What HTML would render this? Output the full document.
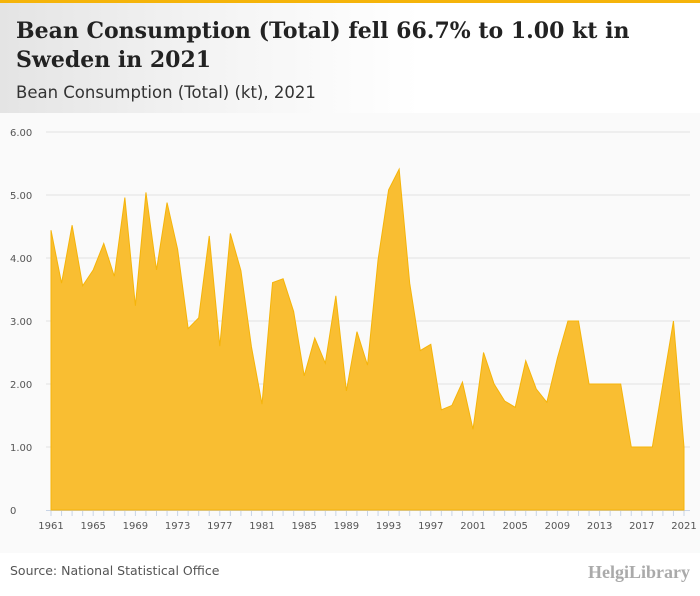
<!DOCTYPE html>
<html><head><meta charset="utf-8">
<style>
body{margin:0;width:700px;height:596px;overflow:hidden;background:#fff;font-family:"DejaVu Sans","Liberation Sans",sans-serif;}
#top{position:absolute;left:0;top:0;width:700px;height:3px;background:#f5b40a;}
#hdr{position:absolute;left:0;top:3px;width:700px;height:110px;background:linear-gradient(90deg,#e4e4e4 0%,#f6f6f6 35%,#fff 60%);}
h1{position:absolute;left:16px;top:14px;margin:0;font:bold 22px/29px "DejaVu Serif","Liberation Serif",serif;color:#222;}
#sub{position:absolute;left:16px;top:80px;font-size:16.5px;color:#333;}
#chart{position:absolute;left:0;top:113px;}
#src{position:absolute;left:10px;top:563px;font-size:12.5px;color:#555;}
#logo{position:absolute;right:10px;top:562px;font:bold 18px "Liberation Serif",serif;color:#aaa;}
</style></head><body>
<div id="top"></div>
<div id="hdr">
<h1>Bean Consumption (Total) fell 66.7% to 1.00 kt in<br>Sweden in 2021</h1>
<div id="sub">Bean Consumption (Total) (kt), 2021</div>
</div>
<svg id="chart" width="700" height="440"></svg>
<div id="src">Source: National Statistical Office</div>
<div id="logo">HelgiLibrary</div>
<script>
const years=[];for(let y=1961;y<=2021;y++)years.push(y);
const values=[4.44,3.60,4.52,3.56,3.81,4.23,3.71,4.96,3.24,5.04,3.81,4.88,4.14,2.88,3.05,4.35,2.60,4.39,3.80,2.59,1.68,3.61,3.67,3.15,2.13,2.73,2.33,3.40,1.89,2.83,2.30,3.97,5.08,5.41,3.60,2.53,2.63,1.59,1.66,2.03,1.28,2.50,2.00,1.73,1.63,2.37,1.92,1.71,2.41,3.00,3.00,2.00,2.00,2.00,2.00,1.00,1.00,1.00,2.00,3.00,1.00];
const yTicks=[0,1,2,3,4,5,6];
const yTickLabels=["0","1.00","2.00","3.00","4.00","5.00","6.00"];
const xTickYears=[1961,1965,1969,1973,1977,1981,1985,1989,1993,1997,2001,2005,2009,2013,2017,2021];
const NS="http://www.w3.org/2000/svg",svg=document.getElementById('chart');
const OY=113;
function X(y){return 51+(y-1961)*(684-51)/60;}
function Y(v){return 510-OY-v*63;}
function mk(t,a){const e=document.createElementNS(NS,t);for(const k in a)e.setAttribute(k,a[k]);svg.appendChild(e);return e;}
const bg=mk('rect',{x:0,y:0,width:700,height:440,fill:'#fafafa'});


yTicks.forEach((v,i)=>{
 if(v>0){const l=mk('line',{x1:46,x2:690,y1:Y(v),y2:Y(v),stroke:'#e2e2e2'});
 
 }
 const t=mk('text',{x:10,y:Y(v)+4,'font-size':10,fill:'#555'});t.textContent=yTickLabels[i];
 
 
});
mk('line',{x1:46,x2:690,y1:Y(0)+0.5,y2:Y(0)+0.5,stroke:'#c8d4e6'});
years.forEach(y=>{mk('line',{x1:X(y),x2:X(y),y1:Y(0),y2:Y(0)+6,stroke:'#c8d4e6'});});
xTickYears.forEach(y=>{const t=mk('text',{x:X(y),y:Y(0)+19,'font-size':10,fill:'#555','text-anchor':'middle'});t.textContent=y;
 
 });
let d='M'+X(years[0])+','+Y(0);
years.forEach((y,i)=>{d+=' L'+X(y)+','+Y(values[i]);});
d+=' L'+X(years[years.length-1])+','+Y(0)+' Z';
const area=mk('path',{d:d,fill:'#f9be32',stroke:'#f5b40a','stroke-width':1});


</script>
</body></html>
